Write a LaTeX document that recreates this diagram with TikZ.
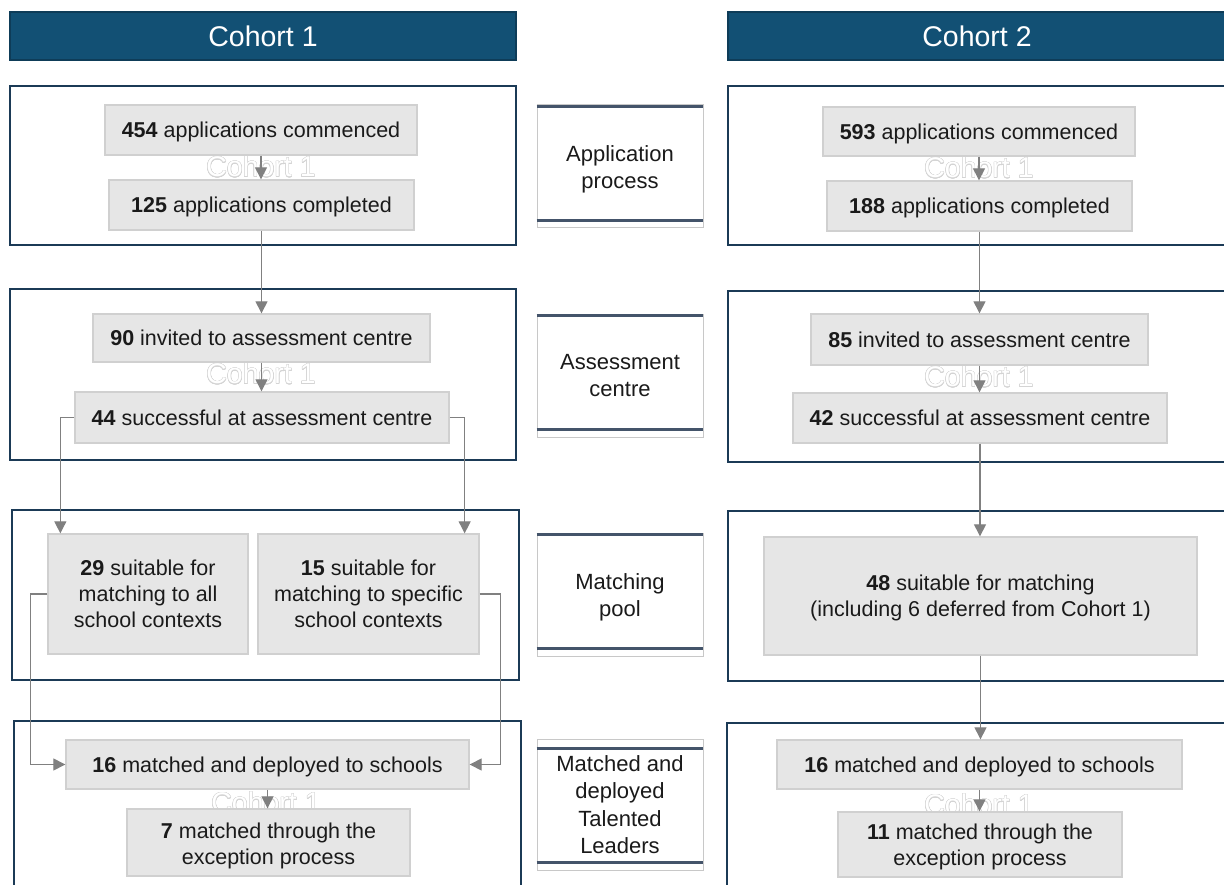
\documentclass[tikz,border=0pt]{standalone}
\usepackage{fontspec}
\setmainfont{Liberation Sans}
\usepackage{contour}
\contourlength{0.45pt}
\usetikzlibrary{arrows.meta}
\definecolor{hdr}{RGB}{18,80,116}
\definecolor{hdrline}{RGB}{14,60,88}
\definecolor{secc}{RGB}{27,58,86}
\definecolor{gfill}{RGB}{230,230,230}
\definecolor{gline}{RGB}{208,208,208}
\definecolor{arrc}{RGB}{128,128,128}
\definecolor{mline}{RGB}{68,84,106}
\definecolor{mbox}{RGB}{200,200,200}
\definecolor{txt}{RGB}{26,26,26}
\definecolor{ghostc}{RGB}{212,212,212}
\newcommand{\boxfnt}{\fontsize{21.5}{26}\selectfont}
\newcommand{\midfnt}{\fontsize{22}{27.5}\selectfont}
\newcommand{\hdrfnt}{\fontsize{28.5}{34}\selectfont}
\tikzset{
  hdrbox/.style={draw=hdrline, fill=hdr, line width=1.2pt, text=white, font=\hdrfnt, inner sep=0pt},
  sec/.style={draw=secc, line width=2pt},
  gbox/.style={draw=gline, fill=gfill, line width=1.3pt, inner sep=0pt, align=center, font=\boxfnt, text=txt},
  gline1/.style={gbox, text depth=0pt},
  midbox/.style={draw=mbox, line width=0.9pt, inner sep=0pt, align=center, font=\midfnt, text=txt, minimum width=166pt},
  mrule/.style={draw=mline, line width=2.4pt},
  arr/.style={draw=arrc, line width=1.1pt, -{Triangle[length=12pt,width=12pt]}},
  ghost/.style={text=white, font=\hdrfnt, inner sep=0pt}
}
\begin{document}
\begin{tikzpicture}[x=1pt,y=-1pt]
\useasboundingbox (0,0) rectangle (1224,885);
\fill[white] (0,0) rectangle (1224,885);

% headers
\node[hdrbox, minimum width=506pt, minimum height=48pt] (h1) at (263,36) {Cohort 1};
\node[hdrbox, minimum width=498pt, minimum height=48pt] (h2) at (977,36) {Cohort 2};

% section outlines
\draw[sec] (10,86) rectangle (516,245);
\draw[sec] (10,289) rectangle (516,460);
\draw[sec] (12,510) rectangle (519,680);
\draw[sec] (14,721) rectangle (521,892);
\draw[sec] (728,86) rectangle (1228,245);
\draw[sec] (728,291) rectangle (1228,462);
\draw[sec] (728,511) rectangle (1228,681);
\draw[sec] (727,723) rectangle (1228,892);

% faint ghost texts
\node[ghost] (gh1) at (261,167) {\contour{ghostc}{Cohort 1}};
\node[ghost] (gh2) at (261,374) {\contour{ghostc}{Cohort 1}};
\node[ghost] (gh4) at (266,803) {\contour{ghostc}{Cohort 1}};
\node[ghost] (gh5) at (979,168) {\contour{ghostc}{Cohort 1}};
\node[ghost] (gh6) at (979,377) {\contour{ghostc}{Cohort 1}};
\node[ghost] (gh7) at (979,805) {\contour{ghostc}{Cohort 1}};

% cohort 1 boxes
\node[gline1, minimum width=312pt, minimum height=50pt] (a1) at (261,130) {\textbf{454} applications commenced};
\node[gline1, minimum width=305pt, minimum height=50pt] (b1) at (261.5,205) {\textbf{125} applications completed};
\node[gline1, minimum width=337pt, minimum height=48pt] (c1) at (261.5,338) {\textbf{90} invited to assessment centre};
\node[gline1, minimum width=374pt, minimum height=51pt] (d1) at (262,417.5) {\textbf{44} successful at assessment centre};
\node[gbox, minimum width=200pt, minimum height=120pt] (e1) at (148,594) {\textbf{29} suitable for\\matching to all\\school contexts};
\node[gbox, minimum width=221pt, minimum height=120pt] (f1) at (368.5,594) {\textbf{15} suitable for\\matching to specific\\school contexts};
\node[gline1, minimum width=403pt, minimum height=49pt] (g1) at (267.5,764.5) {\textbf{16} matched and deployed to schools};
\node[gbox, minimum width=283pt, minimum height=67pt] (k1) at (268.5,842.5) {\rule{0pt}{22pt}\textbf{7} matched through the\\exception process};

% cohort 2 boxes
\node[gline1, minimum width=312pt, minimum height=49pt] (a2) at (979,131.5) {\textbf{593} applications commenced};
\node[gline1, minimum width=305pt, minimum height=50pt] (b2) at (979.5,206) {\textbf{188} applications completed};
\node[gline1, minimum width=337pt, minimum height=51pt] (c2) at (979.5,339.5) {\textbf{85} invited to assessment centre};
\node[gline1, minimum width=374pt, minimum height=50pt] (d2) at (980,418) {\textbf{42} successful at assessment centre};
\node[gbox, minimum width=433pt, minimum height=118pt] (e2) at (980.5,596) {\rule{0pt}{19pt}\textbf{48} suitable for matching\\(including 6 deferred from Cohort 1)};
\node[gline1, minimum width=405pt, minimum height=49pt] (f2) at (979.5,764.5) {\textbf{16} matched and deployed to schools};
\node[gbox, minimum width=284pt, minimum height=65pt] (k2) at (980,844.5) {\rule{0pt}{20pt}\textbf{11} matched through the\\exception process};

% middle labels
\node[midbox, minimum height=123pt] (m1) at (620,165.5) {\rule{0pt}{24pt}Application\\process};
\node[midbox, minimum height=123pt] (m2) at (620,375.5) {Assessment\\centre};
\node[midbox, minimum height=123pt] (m3) at (620,594.5) {\rule{0pt}{22pt}Matching\\pool};
\node[midbox, minimum height=131pt] (m4) at (620,804.5) {Matched and\\deployed\\Talented\\Leaders};
\draw[mrule] ([yshift=-3pt]m1.north west) -- ([yshift=-3pt]m1.north east);
\draw[mrule] ([yshift=7pt]m1.south west) -- ([yshift=7pt]m1.south east);
\draw[mrule] ([yshift=-2pt]m2.north west) -- ([yshift=-2pt]m2.north east);
\draw[mrule] ([yshift=8pt]m2.south west) -- ([yshift=8pt]m2.south east);
\draw[mrule] ([yshift=-2pt]m3.north west) -- ([yshift=-2pt]m3.north east);
\draw[mrule] ([yshift=8pt]m3.south west) -- ([yshift=8pt]m3.south east);
\draw[mrule] ([yshift=-10pt]m4.north west) -- ([yshift=-10pt]m4.north east);
\draw[mrule] ([yshift=8pt]m4.south west) -- ([yshift=8pt]m4.south east);

% cohort 1 connectors
\draw[arr] (a1.south) -- (a1.south |- b1.north);
\draw[arr] (b1.south) -- (b1.south |- c1.north);
\draw[arr] (c1.south) -- (c1.south |- d1.north);
\draw[arr] (d1.west) -| ([xshift=13pt]e1.north west);
\draw[arr] (d1.east) -| ([xshift=-15pt]f1.north east);
\draw[arr] (e1.west) -| ([xshift=-35pt]g1.west) -- (g1.west);
\draw[arr] (f1.east) -| ([xshift=31pt]g1.east) -- (g1.east);
\draw[arr] (g1.south) -- (g1.south |- k1.north);

% cohort 2 connectors
\draw[arr] (a2.south) -- (a2.south |- b2.north);
\draw[arr] (b2.south) -- (b2.south |- c2.north);
\draw[arr] (c2.south) -- (c2.south |- d2.north);
\draw[arr] (d2.south) -- (d2.south |- e2.north);
\draw[arr] (e2.south) -- (e2.south |- f2.north);
\draw[arr] (f2.south) -- (f2.south |- k2.north);
\end{tikzpicture}
\end{document}
